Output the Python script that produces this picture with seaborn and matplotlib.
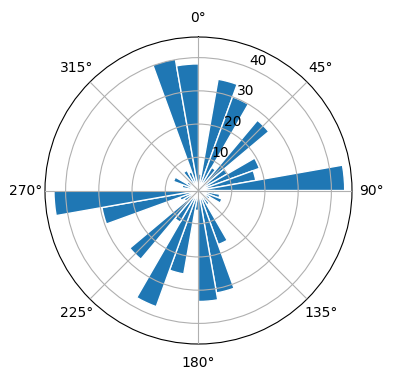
import numpy as np
import matplotlib
matplotlib.use("Agg")
import matplotlib.pyplot as plt
import seaborn as sns

# bin start directions (degrees, clockwise from north) and bar heights
bin_start_deg = [0, 10, 20, 30, 40, 50, 60, 70, 80, 90, 100, 110,
                 120, 130, 140, 150, 160, 170, 180, 190, 200, 210, 220, 230,
                 240, 250, 260, 270, 280, 290, 300, 310, 320, 330, 340, 350]
counts = [5, 34, 30, 8, 27.6, 10, 19.5, 17.5, 44, 5, 6.5, 7.5,
          4, 3, 5, 17.3, 31.3, 33.4, 6, 25.5, 37.2, 11, 27, 5,
          6, 29.5, 43.5, 3, 5, 8, 4, 3, 7, 6, 40.2, 38.1]
bin_width_deg = 10

color = sns.color_palette("tab10")[0]

fig = plt.figure(figsize=(3.96, 3.80), dpi=100)
ax = fig.add_axes([0.1136, 0.0947, 0.7753, 0.8079], projection="polar")
ax.set_theta_zero_location("N")
ax.set_theta_direction(-1)

ax.bar(np.deg2rad(bin_start_deg), counts, width=np.deg2rad(bin_width_deg),
       align="edge", color=color, edgecolor="white", linewidth=1.0)
ax.set_axisbelow(False)
ax.grid(True, color="#b0b0b0", linewidth=0.8)

fig.savefig("out.png", dpi=100)
